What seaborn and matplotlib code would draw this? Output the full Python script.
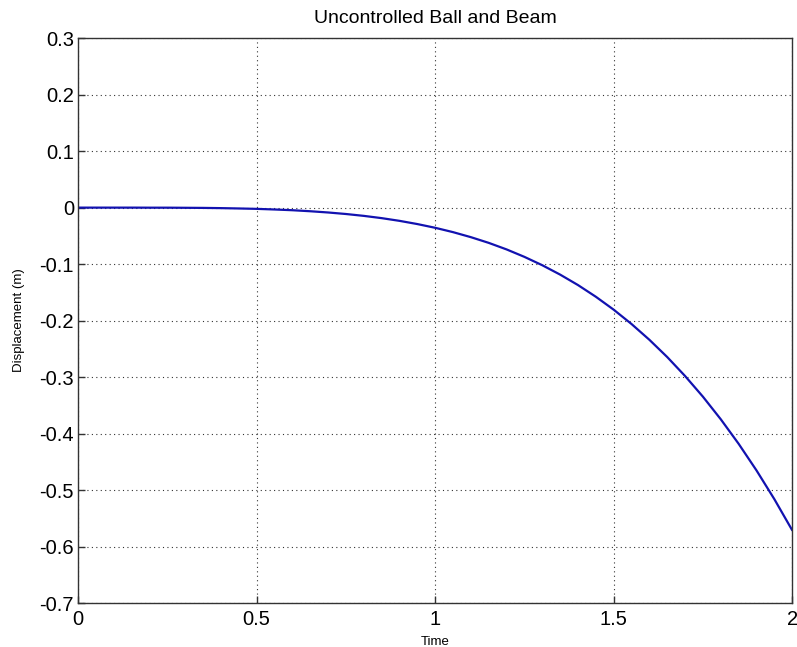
import matplotlib
matplotlib.use("Agg")
import matplotlib.pyplot as plt
import seaborn as sns
import pandas as pd

time = [0.0, 0.05, 0.1, 0.15, 0.2, 0.25, 0.3, 0.35, 0.4, 0.45, 0.5, 0.55, 0.6, 0.65,
        0.7, 0.75, 0.8, 0.85, 0.9, 0.95, 1.0, 1.05, 1.1, 1.15, 1.2, 1.25, 1.3, 1.35,
        1.4, 1.45, 1.5, 1.55, 1.6, 1.65, 1.7, 1.75, 1.8, 1.85, 1.9, 1.95, 2.0]
displacement = [0.0, 0.0, 0.0, 0.0, -0.0001, -0.0001, -0.0003, -0.0005, -0.0009, -0.0015,
                -0.0022, -0.0033, -0.0046, -0.0064, -0.0086, -0.0113, -0.0146, -0.0186,
                -0.0234, -0.0291, -0.0357, -0.0434, -0.0523, -0.0624, -0.074, -0.0872,
                -0.102, -0.1186, -0.1371, -0.1578, -0.1807, -0.2061, -0.234, -0.2646,
                -0.2982, -0.3348, -0.3748, -0.4182, -0.4653, -0.5162, -0.5712]
xticks = [0, 0.5, 1, 1.5, 2]
xticklabels = ["0", "0.5", "1", "1.5", "2"]
yticks = [-0.7, -0.6, -0.5, -0.4, -0.3, -0.2, -0.1, 0, 0.1, 0.2, 0.3]
yticklabels = ["-0.7", "-0.6", "-0.5", "-0.4", "-0.3", "-0.2", "-0.1", "0", "0.1", "0.2", "0.3"]

df = pd.DataFrame({"Time": time, "Displacement": displacement})

sns.set_style("ticks")
plt.rcParams["font.family"] = ["Liberation Sans", "DejaVu Sans"]
plt.rcParams["text.color"] = "black"
plt.rcParams["axes.labelcolor"] = "black"

fig = plt.figure(figsize=(7.97, 6.47), dpi=100)
ax = fig.add_axes([0.098, 0.068, 0.896, 0.873])
sns.lineplot(data=df, x="Time", y="Displacement", ax=ax, color="#1212b0", linewidth=1.6)

ax.set_xlim(0, 2)
ax.set_ylim(-0.7, 0.3)
ax.set_xticks(xticks)
ax.set_xticklabels(xticklabels)
ax.set_yticks(yticks)
ax.set_yticklabels(yticklabels)
ax.grid(True, linestyle=(0, (1, 3)), color="black", linewidth=0.8, alpha=0.8)
ax.tick_params(direction="in", length=5, width=1, labelsize=14.5, colors="#333333",
               labelcolor="black")
ax.tick_params(axis="x", pad=5)
ax.tick_params(axis="y", pad=3)
for s in ax.spines.values():
    s.set_visible(True)
    s.set_color("#333333")
    s.set_linewidth(1.0)
ax.set_xlabel("Time", fontsize=9.5, labelpad=5, color="black")
ax.set_ylabel("Displacement (m)", fontsize=9.5, labelpad=10, color="black")
ax.set_title("Uncontrolled Ball and Beam", fontsize=14, pad=11, color="black")

fig.savefig("out.png", dpi=100)
